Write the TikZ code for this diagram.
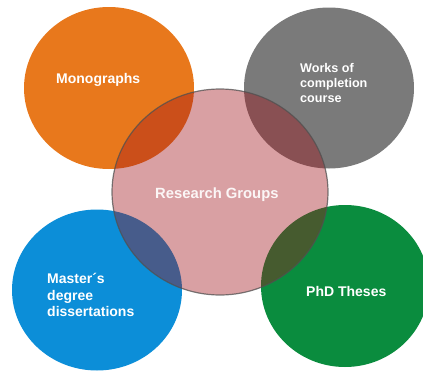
\documentclass[tikz,border=0pt]{standalone}
\usepackage{fontspec}
\setmainfont{Liberation Sans}
\usetikzlibrary{shapes.geometric}
\definecolor{cOrange}{RGB}{232,120,28}
\definecolor{cGray}{RGB}{122,122,122}
\definecolor{cBlue}{RGB}{12,142,216}
\definecolor{cGreen}{RGB}{10,140,62}
\definecolor{cCenter}{RGB}{160,18,25}
\definecolor{cRim}{RGB}{80,80,80}
\tikzset{
  blob/.style={ellipse, inner sep=0pt, draw=none},
  lbl/.style={text=white, font=\bfseries\fontsize{14}{16.5}\selectfont, anchor=west, align=left, inner sep=0pt},
  lblsmall/.style={lbl, font=\bfseries\fontsize{12.6}{15}\selectfont},
}
\begin{document}
\begin{tikzpicture}[x=1pt,y=-1pt]
\useasboundingbox (0,0) rectangle (423,372);
\node[blob, fill=cOrange, minimum width=170pt, minimum height=162pt] (mono) at (109,88) {};
\node[blob, fill=cGray, minimum width=170pt, minimum height=161pt] (works) at (329,88) {};
\node[blob, fill=cBlue, minimum width=170pt, minimum height=161pt] (master) at (97,290) {};
\node[blob, fill=cGreen, minimum width=168pt, minimum height=162pt] (phd) at (345,286) {};
\node[blob, fill=cCenter, fill opacity=0.4, draw=cRim, draw opacity=0.75, line width=1.2pt, minimum width=216pt, minimum height=206pt] (center) at (220,192) {};
\node[lbl] (tmono) at (56,80) {Monographs};
\node[lblsmall] (tworks) at (300,83) {Works of\\completion\\course};
\node[lbl, font=\bfseries\fontsize{14.8}{17}\selectfont, text opacity=0.9] (tcenter) at (155,195) {Research Groups};
\node[lbl] (tmaster) at (47,295) {Master´s\\degree\\dissertations};
\node[lbl] (tphd) at (306,291) {PhD Theses};
\end{tikzpicture}
\end{document}
